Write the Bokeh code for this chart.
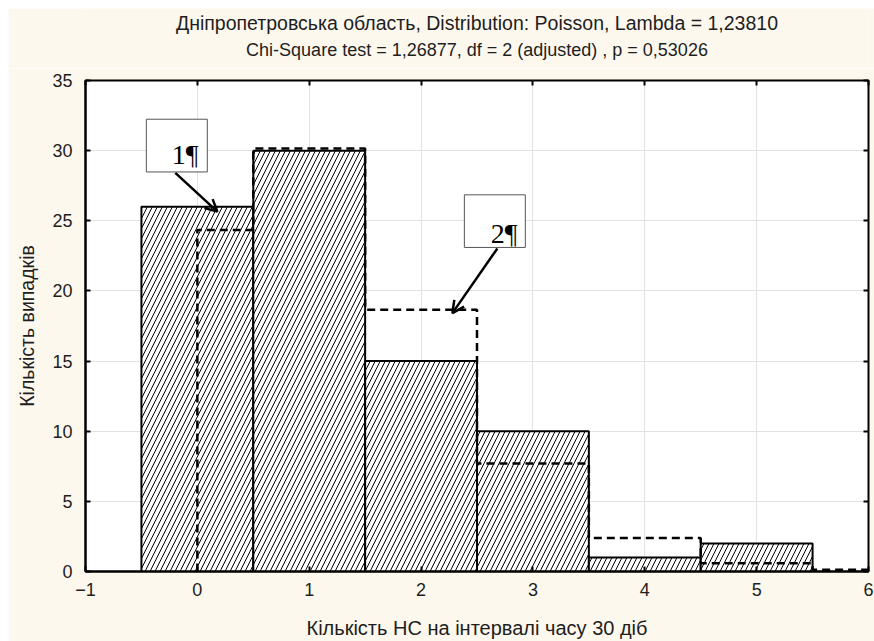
from bokeh.plotting import figure
from bokeh.layouts import column, row
from bokeh.models import (Range1d, LinearAxis, SingleIntervalTicker, Label, Arrow,
                          OpenHead, BoxAnnotation, ColumnDataSource, Spacer,
                          CustomJSTickFormatter)
from bokeh.embed import file_html
from bokeh.resources import INLINE

# ---- data ----
categories = [0, 1, 2, 3, 4, 5]
observed = [26, 30, 15, 10, 1, 2]
expected_cats = [0, 1, 2, 3, 4, 5, 6]
expected = [24.35, 30.15, 18.66, 7.70, 2.38, 0.59, 0.12]
x_range = (-1, 6)
y_range = (0, 35)
title1 = "Дніпропетровська область, Distribution: Poisson, Lambda = 1,23810"
title2 = "Chi-Square test = 1,26877, df = 2 (adjusted) , p = 0,53026"
xlabel = "Кількість НС на інтервалі часу 30 діб"
ylabel = "Кількість випадків"
note1 = "1¶"
note2 = "2¶"

BG = "#FDF8EE"
FONT = "Liberation Sans"
TXT = "#1e1e1e"
W = 866
TOP_H = 60
MAIN_H = 573
BORDER_L, BORDER_R, BORDER_T, BORDER_B = 77, 6, 12, 67

# ---- title strip (its own canvas, frame = whole strip) ----
t = figure(width=W, height=TOP_H, output_backend="svg", toolbar_location=None, title=None,
           x_range=Range1d(0, W), y_range=Range1d(0, TOP_H),
           x_axis_type=None, y_axis_type=None, min_border=0)
t.outline_line_color = None
t.background_fill_color = BG
t.border_fill_color = BG
title_center = W / 2
for txt, yy, fs in ((title1, 46, "19.5px"), (title2, 19, "18px")):
    t.add_layout(Label(x=title_center, y=yy, text=txt, text_font=FONT,
                       text_font_size=fs, text_align="center",
                       text_baseline="middle", text_color=TXT))

# ---- main chart ----
p = figure(width=W, height=MAIN_H, output_backend="svg", toolbar_location=None, title=None,
           x_range=Range1d(*x_range), y_range=Range1d(*y_range),
           min_border_left=BORDER_L, min_border_right=BORDER_R,
           min_border_top=BORDER_T, min_border_bottom=BORDER_B)
p.border_fill_color = BG
p.background_fill_color = "white"
p.outline_line_color = "black"
p.outline_line_width = 2

for ax, tick in ((p.xaxis[0], 1), (p.yaxis[0], 5)):
    ax.ticker = SingleIntervalTicker(interval=tick)
    ax.axis_line_color = "black"
    ax.axis_line_width = 2
    ax.major_tick_in = 5
    ax.major_tick_out = 0
    ax.major_tick_line_width = 2
    ax.minor_tick_line_color = None
    ax.major_label_text_font = FONT
    ax.major_label_text_font_size = "18px"
    ax.major_label_text_color = TXT
    ax.axis_label_text_font = FONT
    ax.axis_label_text_font_style = "normal"
    ax.axis_label_text_color = TXT
p.xaxis.major_label_standoff = 7
p.yaxis.major_label_standoff = 9
p.yaxis.axis_label = ylabel
p.yaxis.axis_label_text_font_size = "19.5px"
p.yaxis.axis_label_standoff = 11
p.xaxis.axis_label = xlabel
p.xaxis.axis_label_text_font_size = "20px"
p.xaxis.axis_label_standoff = 18

for side, tick in (("right", 5), ("above", 1)):
    ax = LinearAxis(ticker=SingleIntervalTicker(interval=tick),
                    formatter=CustomJSTickFormatter(code="return ''"))
    ax.axis_line_color = None
    ax.major_tick_in = 5
    ax.major_tick_out = 0
    ax.major_tick_line_width = 2
    ax.minor_tick_line_color = None
    ax.major_label_standoff = 0
    p.add_layout(ax, side)

p.xgrid.ticker = SingleIntervalTicker(interval=1)
p.ygrid.ticker = SingleIntervalTicker(interval=5)
p.grid.grid_line_color = "#E2E2E2"
p.grid.grid_line_width = 1

# observed histogram bars
src = ColumnDataSource(dict(
    left=[c - 0.5 for c in categories],
    right=[c + 0.5 for c in categories],
    top=observed,
    bottom=[0] * len(categories)))
p.quad(left="left", right="right", top="top", bottom="bottom", source=src,
       fill_color="white", line_color="black", line_width=2,
       hatch_pattern="/", hatch_color="black", hatch_scale=10, hatch_weight=1)

# expected Poisson step line (dashed)
xs, ys = [0], [0]
for c, e in zip(expected_cats, expected):
    left = max(c - 0.5, 0)
    right = min(c + 0.5, x_range[1])
    xs += [left, right]
    ys += [e, e]
p.line(xs, ys, line_color="black", line_width=2.5, line_dash="8 5")

# callout boxes with arrows
for (bl, br, bt, bb, tx, ty, txt, ax0, ay0, ax1, ay1) in (
        (-0.456, 0.089, 32.24, 28.48, 0.01, 29.7, note1, -0.197, 28.41, 0.179, 25.65),
        (2.387, 2.932, 26.85, 23.10, 2.861, 24.09, note2, 2.682, 23.03, 2.28, 18.42)):
    p.add_layout(Arrow(end=OpenHead(size=12, line_width=2.5, line_color="black"),
                       x_start=ax0, y_start=ay0, x_end=ax1, y_end=ay1,
                       line_width=2.5, line_color="black"))
    p.add_layout(BoxAnnotation(left=bl, right=br, top=bt, bottom=bb,
                               fill_color="white", fill_alpha=1.0,
                               line_color="#555555", line_width=1, line_alpha=1.0))
    p.add_layout(Label(x=tx, y=ty, text=txt, text_font="Liberation Serif",
                       text_font_size="28px", text_align="right",
                       text_baseline="alphabetic", text_color="black"))

layout = column(Spacer(height=8), row(Spacer(width=8), column(t, p)))
open("out.html", "w").write(file_html(layout, INLINE))
